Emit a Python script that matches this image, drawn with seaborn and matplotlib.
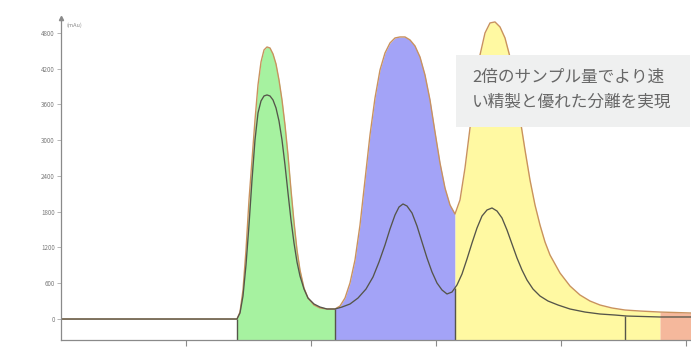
import numpy as np
import pandas as pd
import seaborn as sns
import matplotlib.pyplot as plt
from matplotlib.patches import Rectangle

# Chromatogram traces: retention time (min) vs absorbance (mAU)
outer_time = [0.000, 1.408, 1.432, 1.456, 1.480, 1.504, 1.528, 1.552, 1.576, 1.600,
              1.624, 1.648, 1.672, 1.696, 1.720, 1.744, 1.768, 1.792, 1.816, 1.840,
              1.864, 1.888, 1.912, 1.944, 1.976, 2.024, 2.072, 2.128, 2.192,
              2.232, 2.272, 2.312, 2.352, 2.392, 2.432, 2.472, 2.512, 2.552, 2.592,
              2.632, 2.672, 2.712, 2.752, 2.792, 2.832, 2.872, 2.912, 2.952, 2.992,
              3.032, 3.072, 3.112, 3.152,
              3.192, 3.232, 3.272, 3.312, 3.352, 3.392, 3.432, 3.472, 3.512, 3.552,
              3.592, 3.632, 3.672, 3.712, 3.752, 3.792, 3.832, 3.872, 3.912, 3.992,
              4.072, 4.152, 4.232, 4.312, 4.408, 4.512, 4.632, 4.792, 5.040]
outer_abs = [0, 0, 117, 487, 1158, 1997, 2668, 3339, 3927, 4312,
             4514, 4564, 4547, 4447, 4279, 4010, 3675, 3255, 2752, 2165,
             1628, 1158, 822, 520, 352, 235, 185, 168, 168,
             218, 352, 604, 990, 1577, 2332, 3088, 3708, 4178, 4463,
             4631, 4715, 4732, 4732, 4682, 4581, 4396, 4094, 3675, 3138,
             2618, 2198, 1913, 1762,
             1997, 2534, 3205, 3876, 4430, 4799, 4967, 4984, 4900, 4715,
             4396, 3927, 3373, 2836, 2332, 1913, 1577, 1292, 1074, 772,
             554, 403, 302, 235, 185, 151, 134, 117, 101]

inner_time = [0.000, 1.408, 1.432, 1.456, 1.480, 1.504, 1.528, 1.552, 1.576, 1.600,
              1.624, 1.648, 1.672, 1.696, 1.720, 1.744, 1.768, 1.792, 1.816, 1.840,
              1.864, 1.888, 1.912, 1.944, 1.976, 2.024, 2.072, 2.128, 2.192,
              2.248, 2.312, 2.376, 2.440, 2.496, 2.544, 2.592, 2.632, 2.672, 2.704,
              2.736, 2.768, 2.808, 2.848, 2.888, 2.928, 2.968, 3.008, 3.048, 3.088,
              3.128, 3.168,
              3.208, 3.248, 3.288, 3.328, 3.368, 3.408, 3.448, 3.488, 3.528, 3.568,
              3.608, 3.648, 3.688, 3.728, 3.776, 3.832, 3.896, 3.976, 4.072, 4.192,
              4.312, 4.432, 4.528, 4.792, 5.040]
inner_abs = [0, 0, 101, 386, 906, 1577, 2332, 3004, 3457, 3658,
             3742, 3759, 3742, 3675, 3541, 3322, 3004, 2584, 2114, 1661,
             1275, 956, 722, 503, 352, 252, 201, 168, 168,
             201, 252, 352, 503, 705, 956, 1242, 1510, 1745, 1879,
             1930, 1896, 1779, 1561, 1292, 1024, 789, 604, 487, 420,
             453, 571,
             755, 1007, 1275, 1527, 1728, 1829, 1863, 1812, 1695, 1493,
             1258, 1024, 822, 654, 503, 386, 302, 235, 168, 117,
             84, 67, 50, 34, 34]

# Collected fractions: start/end times and fill colours
fraction_start = [1.408, 2.192, 3.152, 4.792]
fraction_end = [2.192, 3.152, 4.792, 5.040]
fraction_colors = ["#a6f2a0", "#a3a3f7", "#fff9a2", "#f5b89c"]
cut_times = [1.408, 2.192, 3.152, 4.512]

y_ticks = [0, 600, 1200, 1800, 2400, 3000, 3600, 4200, 4800]
x_ticks = [1, 2, 3, 4, 5]
note_lines = ["2倍のサンプル量でより速", "い精製と優れた分離を実現"]

sns.set_theme(style="white")
plt.rcParams['font.family'] = ['Noto Sans CJK JP', 'DejaVu Sans']

W, H = 691, 347
fig = plt.figure(figsize=(W / 100, H / 100), dpi=100)
ax = fig.add_axes([61 / W, 7 / H, 1 - 61 / W, 1 - 7 / H - 18 / H])
y_min, y_max = -352, 5050
x_min, x_max = 0, 5.04

t_out = np.array(outer_time)
a_out = np.array(outer_abs)
t_in = np.array(inner_time)
a_in = np.array(inner_abs)

for t0, t1, col in zip(fraction_start, fraction_end, fraction_colors):
    m = (t_out >= t0) & (t_out <= t1)
    ax.fill_between(t_out[m], y_min, a_out[m], color=col, lw=0, zorder=1)

outer_df = pd.DataFrame({"time": outer_time, "abs": outer_abs})
inner_df = pd.DataFrame({"time": inner_time, "abs": inner_abs})
sns.lineplot(data=outer_df, x="time", y="abs", ax=ax, color="#c9925e",
             lw=1.0, sort=False, estimator=None, zorder=3)
sns.lineplot(data=inner_df, x="time", y="abs", ax=ax, color="#55554a",
             lw=0.95, sort=False, estimator=None, zorder=4)

for tc in cut_times:
    top = np.interp(tc, t_in, a_in)
    ax.vlines(tc, y_min, top, color="#55554a", lw=1.0, zorder=4)

ax.set_xlim(x_min, x_max)
ax.set_ylim(y_min, y_max)
ax.set_xlabel("")
ax.set_ylabel("")
ax.set_xticks(x_ticks)
ax.set_xticklabels([])
ax.set_yticks(y_ticks)
ax.set_yticklabels([str(v) for v in y_ticks], fontsize=4.5, color="#7a7a7a")
ax.tick_params(axis="x", bottom=True, length=4, width=0.8, color="#8a8a8a",
               direction="out")
ax.tick_params(axis="y", left=True, length=3, width=0.6, color="#aaaaaa",
               direction="out", pad=1.5)
for side in ["top", "right"]:
    ax.spines[side].set_visible(False)
for side in ["left", "bottom"]:
    ax.spines[side].set_color("#8a8a8a")
    ax.spines[side].set_linewidth(0.9)
ax.spines["left"].set_zorder(5)
ax.spines["bottom"].set_zorder(5)

ax.plot(0, 1, marker="^", ms=3, color="#8a8a8a", transform=ax.transAxes,
        clip_on=False)
ax.text(0.008, 0.985, "(mAu)", transform=ax.transAxes, fontsize=4,
        color="#8a8a8a", va="top", ha="left")

box = Rectangle((456 / W, 1 - 127 / H), 234 / W, 72 / H,
                transform=fig.transFigure, facecolor="#eff0f0",
                edgecolor="none", zorder=5)
fig.add_artist(box)
for i, line in enumerate(note_lines):
    fig.text(472 / W, 1 - (77 + 25 * i) / H, line, fontsize=12,
             color="#676767", va="center", ha="left", zorder=6)

fig.savefig("out.png", dpi=100)
